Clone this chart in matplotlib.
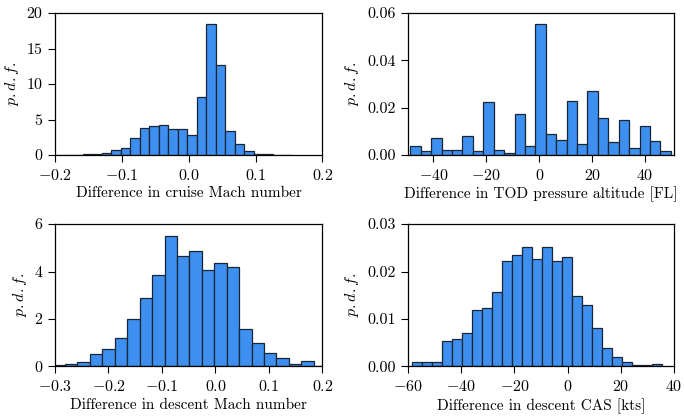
import numpy as np
import matplotlib
matplotlib.use("Agg")
import matplotlib.pyplot as plt

plt.rcParams["font.family"] = "serif"
plt.rcParams["font.serif"] = ["cmr10", "DejaVu Serif"]
plt.rcParams["mathtext.fontset"] = "cm"
plt.rcParams["axes.formatter.use_mathtext"] = True
plt.rcParams["font.size"] = 11

# histogram heights (p.d.f.), bins evenly spaced between start and end
cruise_mach = [0.03, 0.03, 0.05, 0.08, 0.12, 0.33, 0.66, 1.03, 2.34, 3.79,
               4.03, 4.2, 3.6, 3.6, 2.8, 8.2, 18.4, 12.65, 3.37, 1.55,
               0.5, 0.15, 0.08, 0.03, 0.02]
cruise_range = (-0.201, 0.154)

tod_alt = [0.0040, 0.0015, 0.0072, 0.0021, 0.0021, 0.0080, 0.0015, 0.0224, 0.0021, 0.0008,
           0.0172, 0.0037, 0.0553, 0.0088, 0.0065, 0.0230, 0.0048, 0.0272, 0.0158, 0.0056,
           0.0150, 0.0031, 0.0122, 0.0059, 0.0018]
tod_range = (-48.7, 49.7)

descent_mach = [0.05, 0.12, 0.17, 0.52, 0.72, 1.2, 2.0, 2.9, 3.87, 5.49,
                4.65, 4.88, 4.06, 4.35, 4.19, 1.6, 1.0, 0.57, 0.36, 0.1,
                0.24, 0.03]
descent_mach_range = (-0.3045, 0.207)

descent_cas = [0.0010, 0.0010, 0.0010, 0.0053, 0.0057, 0.0070, 0.0119, 0.0124, 0.0156, 0.0222,
               0.0235, 0.0252, 0.0227, 0.0252, 0.0222, 0.0231, 0.0148, 0.0129, 0.0082, 0.0038,
               0.0020, 0.0010, 0.0003, 0.0003, 0.0006]
descent_cas_range = (-58.4, 35.6)

panels = [
    (cruise_mach, cruise_range, "Difference in cruise Mach number", (-0.2, 0.2), [-0.2, -0.1, 0.0, 0.1, 0.2], (0, 20), [0, 5, 10, 15, 20], "%d", "%.1f"),
    (tod_alt, tod_range, "Difference in TOD pressure altitude [FL]", (-49.6, 50.9), [-40, -20, 0, 20, 40], (0, 0.06), [0, 0.02, 0.04, 0.06], "%.2f", "%d"),
    (descent_mach, descent_mach_range, "Difference in descent Mach number", (-0.3, 0.2), [-0.3, -0.2, -0.1, 0.0, 0.1, 0.2], (0, 6), [0, 2, 4, 6], "%d", "%.1f"),
    (descent_cas, descent_cas_range, "Difference in descent CAS [kts]", (-60, 40), [-60, -40, -20, 0, 20, 40], (0, 0.03), [0, 0.01, 0.02, 0.03], "%.2f", "%d"),
]

positions = [
    [0.0804, 0.6274, 0.391, 0.3413],
    [0.5965, 0.6274, 0.3889, 0.3413],
    [0.0804, 0.119, 0.391, 0.3425],
    [0.5965, 0.119, 0.3889, 0.3425],
]

fig = plt.figure(figsize=(6.84, 4.16), dpi=100)

for pos, (h, rng, xlab, xl, xt, yl, yt, yfmt, xfmt) in zip(positions, panels):
    ax = fig.add_axes(pos)
    edges = np.linspace(rng[0], rng[1], len(h) + 1)
    ax.bar(edges[:-1], h, width=np.diff(edges), align="edge",
           color="#3d8ff0", edgecolor="#1a2633", linewidth=0.9)
    ax.set_xlim(xl)
    ax.set_ylim(yl)
    ax.set_xticks(xt)
    ax.set_yticks(yt)
    ax.set_xticklabels(["$%s$" % (xfmt % v) for v in xt])
    ax.set_yticklabels([yfmt % v for v in yt])
    ax.set_xlabel(xlab, labelpad=3)
    ax.set_ylabel(r"$p.d.f.$", fontsize=11.5)
    ax.tick_params(direction="out", length=5, width=0.8, pad=4, labelsize=11.5,
                   top=False, right=False)
    for s in ax.spines.values():
        s.set_linewidth(0.9)

fig.savefig("out.png", dpi=100)
